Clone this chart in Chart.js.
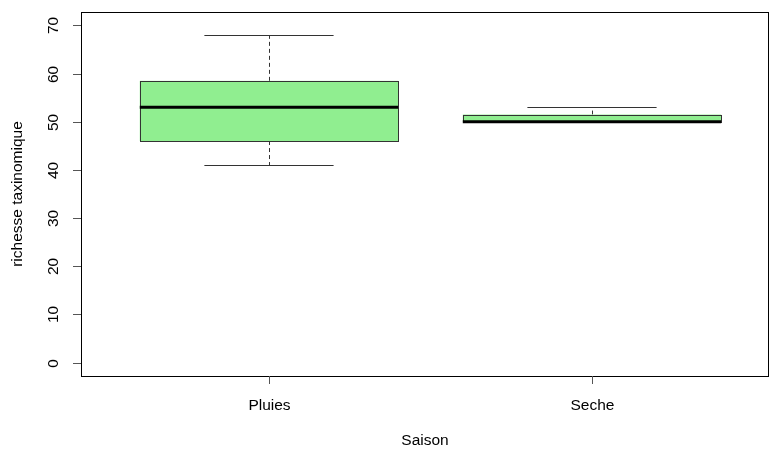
<!DOCTYPE html>
<html>
<head>
<meta charset="utf-8">
<script src="https://cdn.jsdelivr.net/npm/chart.js@4/dist/chart.umd.min.js"></script>
<style>
  html, body { margin: 0; padding: 0; background: #fff; }
</style>
</head>
<body>
<canvas id="chart" width="770" height="449"></canvas>
<script>
// data
const categories = ['Pluies', 'Seche'];
const whiskerLow = [41, 50];
const q1 = [46, 50];
const medians = [53, 50];
const q3 = [58.5, 51.5];
const whiskerHigh = [68, 53];
const yTicks = [0, 10, 20, 30, 40, 50, 60, 70];

const FONT = '15.5px "Liberation Sans", Arial, sans-serif';

// R-style boxplot drawn through the chart's scales
const boxPlugin = {
  id: 'rbox',
  afterDraw(chart) {
    const ctx = chart.ctx;
    const xs = chart.scales.x, ys = chart.scales.y;
    const a = chart.chartArea;
    ctx.save();

    // boxes
    categories.forEach((cat, i) => {
      const xc = xs.getPixelForValue(i + 1);
      const xl = xs.getPixelForValue(i + 1 - 0.4), xr = xs.getPixelForValue(i + 1 + 0.4);
      const sl = xs.getPixelForValue(i + 1 - 0.2), sr = xs.getPixelForValue(i + 1 + 0.2);
      const yLo = ys.getPixelForValue(whiskerLow[i]);
      const yQ1 = ys.getPixelForValue(q1[i]);
      const yMed = ys.getPixelForValue(medians[i]);
      const yQ3 = ys.getPixelForValue(q3[i]);
      const yHi = ys.getPixelForValue(whiskerHigh[i]);

      // whiskers (dashed)
      ctx.strokeStyle = '#333';
      ctx.lineWidth = 1;
      ctx.setLineDash([4, 3]);
      ctx.beginPath();
      ctx.moveTo(Math.round(xc) + 0.5, yQ3); ctx.lineTo(Math.round(xc) + 0.5, yHi);
      ctx.moveTo(Math.round(xc) + 0.5, yQ1); ctx.lineTo(Math.round(xc) + 0.5, yLo);
      ctx.stroke();
      ctx.setLineDash([]);
      // staples
      ctx.beginPath();
      ctx.moveTo(sl, Math.round(yHi) + 0.5); ctx.lineTo(sr, Math.round(yHi) + 0.5);
      ctx.moveTo(sl, Math.round(yLo) + 0.5); ctx.lineTo(sr, Math.round(yLo) + 0.5);
      ctx.stroke();

      // box
      ctx.fillStyle = '#90EE90';
      ctx.fillRect(xl, yQ3, xr - xl, yQ1 - yQ3);
      ctx.strokeStyle = '#333';
      ctx.strokeRect(Math.round(xl) + 0.5, Math.round(yQ3) + 0.5, Math.round(xr - xl), Math.round(yQ1 - yQ3));

      // median
      ctx.strokeStyle = '#000';
      ctx.lineWidth = 3;
      ctx.beginPath();
      ctx.moveTo(xl, yMed); ctx.lineTo(xr, yMed);
      ctx.stroke();
    });

    // frame
    ctx.strokeStyle = '#000';
    ctx.lineWidth = 1;
    ctx.strokeRect(Math.round(a.left) + 0.5, Math.round(a.top) + 0.5,
      Math.round(a.right - a.left) - 1, Math.round(a.bottom - a.top));

    ctx.font = FONT;
    ctx.fillStyle = '#000';

    // y axis ticks and rotated labels
    ctx.strokeStyle = '#555';
    yTicks.forEach(t => {
      const y = Math.round(ys.getPixelForValue(t)) + 0.5;
      ctx.beginPath();
      ctx.moveTo(a.left - 8, y); ctx.lineTo(a.left, y);
      ctx.stroke();
      ctx.save();
      ctx.translate(a.left - 27, y);
      ctx.rotate(-Math.PI / 2);
      ctx.textAlign = 'center';
      ctx.textBaseline = 'middle';
      ctx.fillText(String(t), 0, 0);
      ctx.restore();
    });

    // x axis ticks and labels
    categories.forEach((cat, i) => {
      const x = Math.round(xs.getPixelForValue(i + 1)) + 0.5;
      ctx.beginPath();
      ctx.moveTo(x, a.bottom); ctx.lineTo(x, a.bottom + 8);
      ctx.stroke();
      ctx.textAlign = 'center';
      ctx.textBaseline = 'middle';
      ctx.fillText(cat, x, a.bottom + 30);
    });

    // axis titles
    ctx.textAlign = 'center';
    ctx.textBaseline = 'middle';
    ctx.fillText('Saison', (a.left + a.right) / 2, a.bottom + 65);
    ctx.save();
    ctx.translate(18, (a.top + a.bottom) / 2);
    ctx.rotate(-Math.PI / 2);
    ctx.fillText('richesse taxinomique', 0, 0);
    ctx.restore();

    ctx.restore();
  }
};

const chart = new Chart(document.querySelector('#chart'), {
  type: 'scatter',
  data: { datasets: [{ data: [] }] },
  options: {
    responsive: false,
    animation: false,
    layout: { padding: { left: 81, top: 12, right: 1, bottom: 73 } },
    plugins: { legend: { display: false }, tooltip: { enabled: false } },
    scales: {
      x: { type: 'linear', min: 0.418, max: 2.548, display: false },
      y: { type: 'linear', min: -2.8, max: 72.8, display: false }
    }
  },
  plugins: [boxPlugin]
});
</script>
</body>
</html>
